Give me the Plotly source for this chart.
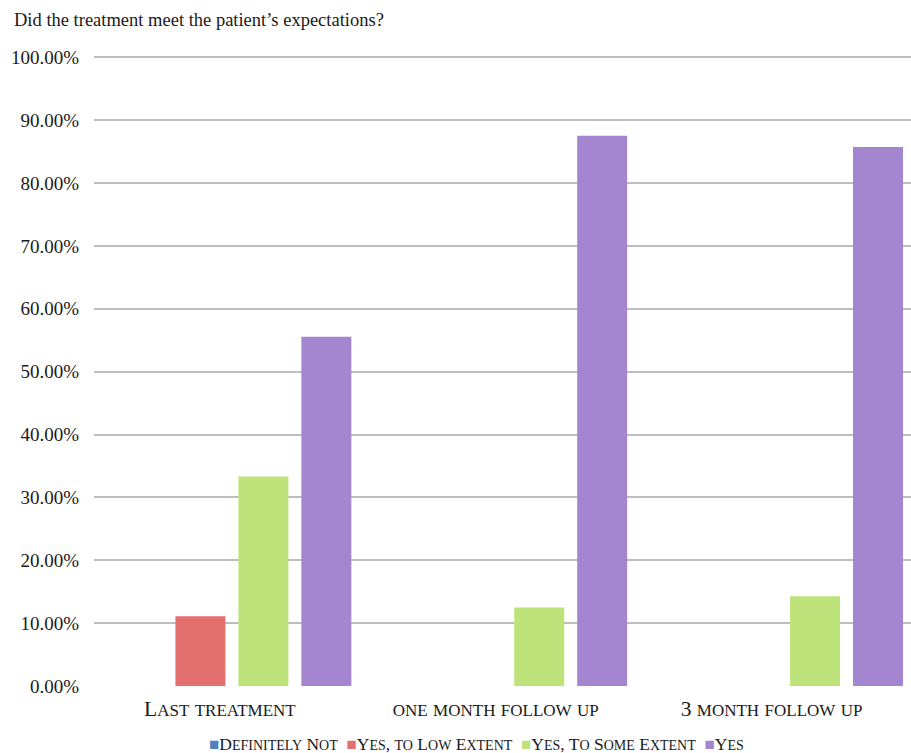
import re
import plotly.graph_objects as go

categories = ["Last treatment", "one month follow up", "3 month follow up"]
series_names = ["Definitely Not", "Yes, to Low Extent", "Yes, To Some Extent", "Yes"]
definitely_not = [0.0, 0.0, 0.0]
yes_low = [11.11, 0.0, 0.0]
yes_some = [33.33, 12.50, 14.29]
yes = [55.56, 87.50, 85.71]
tick_vals = [0, 10, 20, 30, 40, 50, 60, 70, 80, 90, 100]
tick_text = [f"{v:.2f}%" for v in tick_vals]

colors = ["#4f81bd", "#e46f6f", "#bde37a", "#a386cf"]
series = [definitely_not, yes_low, yes_some, yes]


def small_caps(text, small_px):
    return re.sub(r"[a-z]+",
                  lambda m: f"<span style='font-size:{small_px}px'>{m.group().upper()}</span>",
                  text)


fig = go.Figure()
for name, vals, col in zip(series_names, series, colors):
    fig.add_trace(go.Bar(x=categories, y=vals, name=name, showlegend=False,
                         marker=dict(color=col, line=dict(width=0))))

serif = "Liberation Serif"
fig.update_layout(
    width=911, height=753,
    margin=dict(l=94, r=0, t=56, b=67),
    paper_bgcolor="white", plot_bgcolor="white",
    barmode="group", bargap=0.087, bargroupgap=0.206,
    font=dict(family=serif, size=16, color="#1a1a1a"),
    title=dict(text="Did the treatment meet the patient’s expectations?",
               x=14 / 911, xref="container", xanchor="left", y=1 - 20 / 753, yanchor="middle",
               font=dict(family=serif, size=18.5, color="#1a1a1a")),
    showlegend=False,
)

legend_text = "\u00a0\u00a0".join(
    f"<span style='color:{c};font-size:17px'>■</span>{small_caps(n, 14)}"
    for n, c in zip(series_names, colors)
)
fig.add_annotation(text=legend_text, xref="paper", yref="paper", showarrow=False,
                   x=(476 - 94) / (911 - 94), xanchor="center",
                   y=-(744 - 686) / (686 - 56), yanchor="middle",
                   font=dict(family=serif, size=17.5, color="#1a1a1a"))

fig.update_xaxes(range=[-0.5, 2.462], showgrid=False, showline=False, zeroline=False, ticks="",
                 tickmode="array", tickvals=categories,
                 ticktext=[small_caps(c, 17) for c in categories],
                 tickfont=dict(family=serif, size=21.5, color="#1a1a1a"),
                 ticklabelstandoff=7, ticklabelshift=-12)
fig.update_yaxes(range=[0, 100.2], tickvals=tick_vals, ticktext=tick_text, tickmode="array",
                 showgrid=True, gridcolor="#bdbdbd", gridwidth=2, zeroline=False, showline=False,
                 ticks="", ticklabelstandoff=14,
                 tickfont=dict(family=serif, size=19, color="#1a1a1a"))
fig.write_html("out.html")
